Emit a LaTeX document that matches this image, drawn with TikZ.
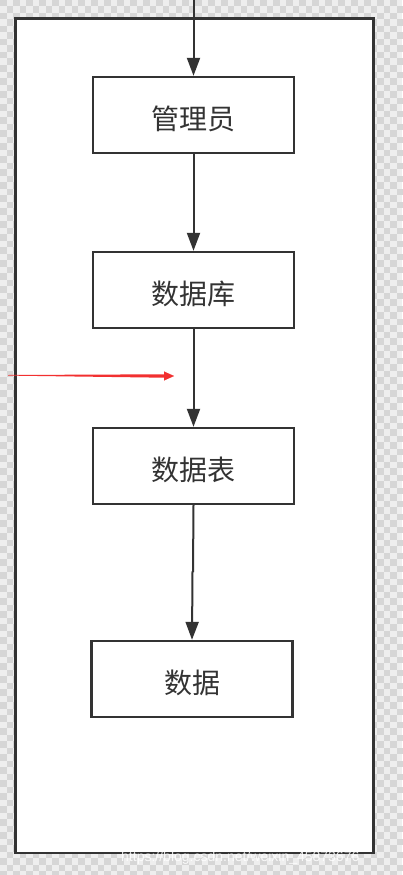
\documentclass[tikz,border=0pt]{standalone}
\usepackage{fontspec}
\setmainfont{Liberation Sans}
\newfontfamily\cjk{Noto Sans CJK SC}
\usetikzlibrary{arrows.meta}
\definecolor{ink}{HTML}{333333}
\definecolor{chkA}{HTML}{D6D6D6}
\definecolor{chkB}{HTML}{EEEEEE}
\definecolor{redline}{HTML}{F23030}
\tikzset{
  stepbox/.style={draw=ink, line width=2.4pt, fill=white, minimum width=201pt, minimum height=76pt, inner sep=0pt, text height=29pt, text depth=0pt, font=\cjk\fontsize{28}{30}\selectfont, text=ink},
  flow/.style={draw=ink, line width=2pt, -{Triangle[width=13pt,length=18pt]}},
}
\begin{document}
\begin{tikzpicture}[x=1pt,y=-1pt]
\useasboundingbox (0,0) rectangle (402,875);
% checkered transparency background
\fill[chkB] (0,0) rectangle (402,875);
\foreach \i in {0,...,61}{
  \foreach \j in {0,...,134}{
    \pgfmathtruncatemacro{\chkpar}{mod(\i+\j,2)}
    \ifnum\chkpar=0
      \fill[chkA] (\i*6.5,\j*6.5) rectangle ++(6.5,6.5);
    \fi
  }
}
% outer frame
\node[draw=ink, line width=2.5pt, fill=white, minimum width=358pt, minimum height=834.5pt, inner sep=0pt] (frame) at (194.5,435.75) {};
% boxes
\node[stepbox] (b1) at (193.5,115) {管理员};
\node[stepbox] (b2) at (193.5,290) {数据库};
\node[stepbox] (b3) at (193.5,466) {数据表};
\node[stepbox] (b4) at (192,679) {数据};
% connectors
\coordinate (top) at (193.5,0);
\draw[flow] (top) -- (b1.north);
\draw[flow] (b1.south) -- (b2.north);
\draw[flow] (b2.south) -- (b3.north);
\coordinate (kink) at (193,572);
\draw[draw=ink, line width=2pt] (b3.south) -- (kink);
\draw[flow] (kink) -- (192.5,572) -- (b4.north);
% red arrow
\coordinate (rs) at (8,375);
\coordinate (re) at (174,376);
\fill[redline] (rs) -- (164,374.3) -- (164,377.7) -- (8,375.6) -- cycle;
\draw[redline, line width=0.1pt, -{Triangle[width=9pt,length=10pt]}, fill=redline] (163,376) -- (re);
% watermark
\node[text=white, opacity=0.85, font=\fontsize{14}{16}\selectfont, anchor=west, inner sep=0pt] (wm) at (121,858) {https://blog.csdn.net/weixin\_45873676};
\end{tikzpicture}
\end{document}
